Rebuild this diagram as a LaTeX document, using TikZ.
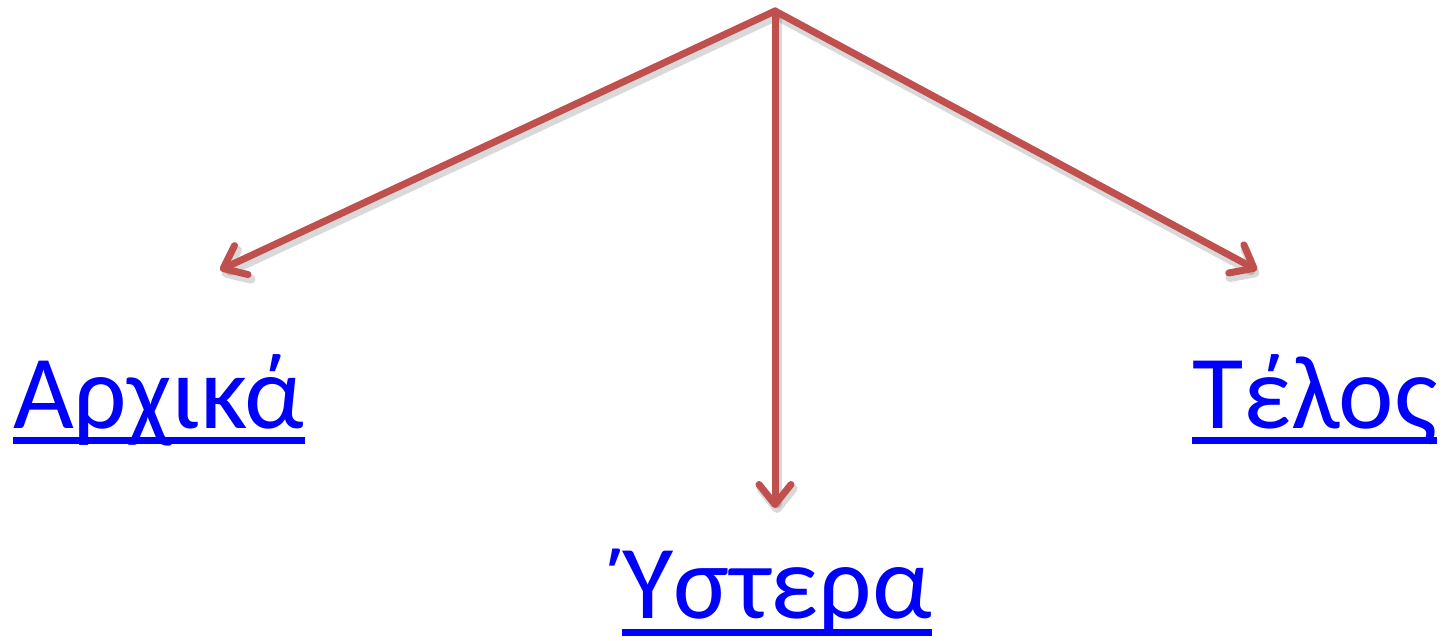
\documentclass[tikz,border=0pt]{standalone}
\usepackage{fontspec}
\setmainfont{Carlito}
\usetikzlibrary{arrows.meta,calc}
\definecolor{arrowred}{HTML}{C0504D}
\definecolor{linkblue}{HTML}{0000FF}
\tikzset{
  conn/.style={draw=arrowred, line width=7pt, line cap=round, line join=round,
    -{Straight Barb[length=20pt,width=32pt,line cap=round,line join=round]}},
  connshadow/.style={draw=black, opacity=0.15, line width=9pt, line cap=round, line join=round,
    -{Straight Barb[length=20pt,width=32pt,line cap=round,line join=round]}},
  linktext/.style={text=linkblue, inner sep=0pt, anchor=base west,
    font=\fontsize{105}{116}\selectfont},
  uline/.style={draw=linkblue, line width=7pt}
}
\begin{document}
\begin{tikzpicture}[x=1pt,y=-1pt]
\useasboundingbox (0,0) rectangle (1443,640);
\coordinate (top) at (775,11);
\coordinate (endL) at (220,270);
\coordinate (endM) at (775,508);
\coordinate (endR) at (1257,270);
\coordinate (topS) at (777,16);
\coordinate (endLS) at (222,275);
\coordinate (endMS) at (777,513);
\coordinate (endRS) at (1259,275);
\draw[connshadow] (topS) -- (endLS);
\draw[connshadow] (topS) -- (endMS);
\draw[connshadow] (topS) -- (endRS);
\draw[conn] (top) -- (endL);
\draw[conn] (top) -- (endM);
\draw[conn] (top) -- (endR);
\node[linktext] (a) at (13,428) {Αρχικά};
\node[linktext] (b) at (622,618) {Ύστερα};
\node[linktext] (c) at (1192,428) {Τέλος};
\draw[uline] ($(a.base west)+(0,12)$) -- ($(a.base east)+(0,12)$);
\draw[uline] ($(b.base west)+(0,14)$) -- ($(b.base east)+(0,14)$);
\draw[uline] ($(c.base west)+(0,12)$) -- ($(c.base east)+(0,12)$);
\end{tikzpicture}
\end{document}
